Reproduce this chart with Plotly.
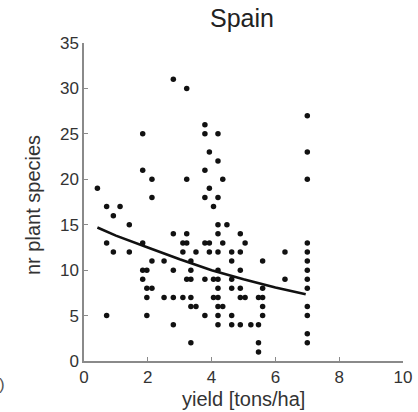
import plotly.graph_objects as go

# Observed points (yield, nr plant species)
yield_x = [
    2.8, 3.22, 7.0, 3.79,
    1.84, 3.79, 4.2,
    3.93, 7.0,
    4.2,
    1.84, 3.79,
    2.13, 3.22, 4.35, 7.0,
    0.42, 3.93,
    2.13, 3.79, 4.2,
    0.71, 1.13, 4.06,
    0.92,
    1.42, 4.2, 4.48,
    2.8, 3.22, 4.2, 4.9,
    0.71, 1.84, 3.1, 3.22, 3.79, 3.93, 4.35, 5.05, 7.0,
    0.92, 1.42, 3.1, 3.51, 3.93, 4.2, 4.63, 4.9, 6.3, 7.0,
    2.13, 2.51, 3.35, 4.63, 5.6, 7.0,
    1.84, 1.97, 2.8, 3.35, 4.2, 4.9, 7.0,
    1.84, 3.22, 3.35, 3.79, 4.06, 4.2, 4.63, 6.3, 7.0,
    1.97, 2.13, 4.2, 4.63, 4.9, 5.6, 7.0,
    1.97, 2.51, 2.8, 3.1, 3.35, 4.06, 4.2, 4.9, 5.05, 5.47, 5.6,
    3.35, 3.51, 4.2, 4.35, 5.6, 7.0,
    0.71, 1.97, 3.79, 4.2, 4.63, 5.6, 7.0,
    2.8, 4.2, 4.63, 4.9, 5.23, 5.47,
    7.0,
    3.35, 5.47, 7.0,
    5.47,
]
species_y = [
    31, 30, 27, 26,
    25, 25, 25,
    23, 23,
    22,
    21, 21,
    20, 20, 20, 20,
    19, 19,
    18, 18, 18,
    17, 17, 17,
    16,
    15, 15, 15,
    14, 14, 14, 14,
    13, 13, 13, 13, 13, 13, 13, 13, 13,
    12, 12, 12, 12, 12, 12, 12, 12, 12, 12,
    11, 11, 11, 11, 11, 11,
    10, 10, 10, 10, 10, 10, 10,
    9, 9, 9, 9, 9, 9, 9, 9, 9,
    8, 8, 8, 8, 8, 8, 8,
    7, 7, 7, 7, 7, 7, 7, 7, 7, 7, 7,
    6, 6, 6, 6, 6, 6,
    5, 5, 5, 5, 5, 5, 5,
    4, 4, 4, 4, 4, 4,
    3,
    2, 2, 2,
    1,
]

# Fitted trend line
fit_x = [0.42, 1.0, 2.0, 3.0, 4.0, 5.0, 6.0, 6.95]
fit_y = [14.7, 13.8, 12.5, 11.2, 10.0, 9.0, 8.1, 7.35]

x_ticks = [0, 2, 4, 6, 8, 10]
y_ticks = [0, 5, 10, 15, 20, 25, 30, 35]

FONT = "Liberation Sans, Arial, sans-serif"

fig = go.Figure()
fig.add_trace(go.Scatter(
    x=yield_x, y=species_y, mode="markers",
    marker=dict(color="#111111", size=5.5, line=dict(width=0)),
    showlegend=False, cliponaxis=False,
))
fig.add_trace(go.Scatter(
    x=fit_x, y=fit_y, mode="lines",
    line=dict(color="#111111", width=2.6),
    showlegend=False,
))

axis_common = dict(
    showgrid=False, zeroline=False, showline=True, automargin=False,
    linecolor="#8a8a8a", linewidth=1.5,
    ticks="inside", ticklen=4, tickcolor="#8a8a8a", tickwidth=1,
    tickfont=dict(family=FONT, size=17, color="#333333"),
)

fig.update_layout(
    width=418, height=412,
    margin=dict(l=84, r=15, t=43, b=51, autoexpand=False),
    paper_bgcolor="white", plot_bgcolor="white",
    xaxis=dict(range=[0, 10], tickvals=x_ticks, ticklabelstandoff=0, **axis_common),
    yaxis=dict(range=[0, 35], tickvals=y_ticks, ticklabelstandoff=0, **axis_common),
)
# Title and axis titles placed as paper annotations
fig.add_annotation(text="Spain", xref="paper", yref="paper",
                   x=(242 - 84) / 319, y=1 + (43 - 18) / 318, xanchor="center", yanchor="middle",
                   showarrow=False, font=dict(family=FONT, size=25, color="#222222"))
fig.add_annotation(text="yield [tons/ha]", xref="paper", yref="paper",
                   x=(243 - 84) / 319, y=-(399 - 361) / 318, xanchor="center", yanchor="middle",
                   showarrow=False, font=dict(family=FONT, size=20, color="#333333"))
fig.add_annotation(text="nr plant species", xref="paper", yref="paper",
                   x=-(84 - 33) / 319, y=(361 - 205) / 318, xanchor="center", yanchor="middle",
                   textangle=-90, showarrow=False, font=dict(family=FONT, size=20, color="#333333"))
fig.add_annotation(text=")", xref="paper", yref="paper", x=-(84 - 2) / 319, y=-(384 - 361) / 318,
                   xanchor="center", yanchor="middle", showarrow=False,
                   font=dict(family=FONT, size=17, color="#555555"))

fig.write_html("out.html", config={"displayModeBar": False},
               post_script="document.body.style.margin='0';document.body.style.overflow='hidden';")
